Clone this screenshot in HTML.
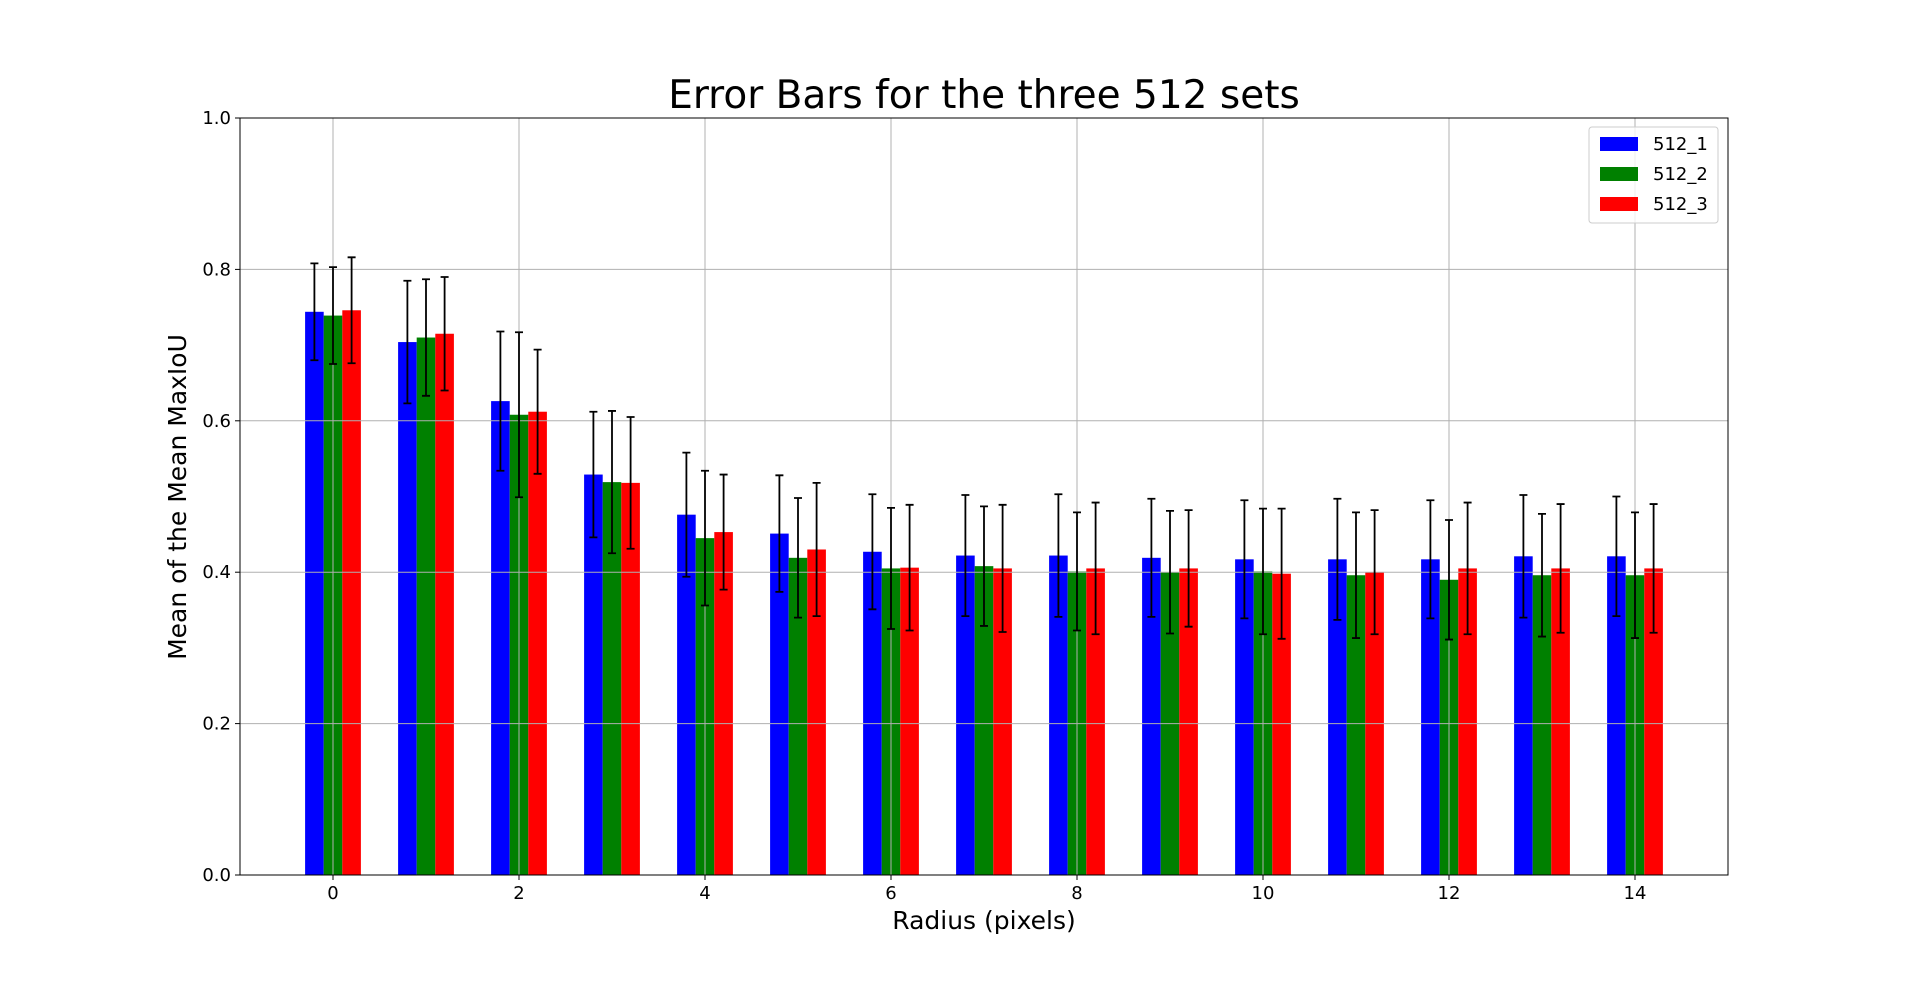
<!DOCTYPE html>
<html><head><meta charset="utf-8"><style>
html,body{margin:0;padding:0;background:#fff;}
svg{display:block;font-family:"DejaVu Sans","Liberation Sans",sans-serif;}
</style></head><body>
<svg id="chart" width="1920" height="983" viewBox="0 0 1920 983" xmlns="http://www.w3.org/2000/svg">
<rect width="1920" height="983" fill="#fff"/>
<text x="984" y="108" text-anchor="middle" font-size="39">Error Bars for the three 512 sets</text>
<g id="bars"></g>
<g id="grid"></g>
<g id="errs"></g>
<g id="axes"></g>
<text x="984" y="929" text-anchor="middle" font-size="25">Radius (pixels)</text>
<text transform="translate(186,497) rotate(-90)" text-anchor="middle" font-size="25">Mean of the Mean MaxIoU</text>
<g>
<rect x="1589" y="127" width="129" height="96" rx="3" fill="#fff" fill-opacity="0.8" stroke="#ccc"/>
<g><rect x="1600" y="137" width="38" height="14" fill="#0000ff"/><text x="1653" y="150" font-size="18">512_1</text></g>
<g><rect x="1600" y="167" width="38" height="14" fill="#008000"/><text x="1653" y="180" font-size="18">512_2</text></g>
<g><rect x="1600" y="197" width="38" height="14" fill="#ff0000"/><text x="1653" y="210" font-size="18">512_3</text></g>
</g>
</svg>
<script>
const radii = [0,1,2,3,4,5,6,7,8,9,10,11,12,13,14];
const mean1 = [0.744,0.704,0.626,0.529,0.476,0.451,0.427,0.422,0.422,0.419,0.417,0.417,0.417,0.421,0.421];
const err1  = [0.064,0.081,0.092,0.083,0.082,0.077,0.076,0.080,0.081,0.078,0.078,0.080,0.078,0.081,0.079];
const mean2 = [0.739,0.710,0.608,0.519,0.445,0.419,0.405,0.408,0.401,0.400,0.401,0.396,0.390,0.396,0.396];
const err2  = [0.064,0.077,0.109,0.094,0.089,0.079,0.080,0.079,0.078,0.081,0.083,0.083,0.079,0.081,0.083];
const mean3 = [0.746,0.715,0.612,0.518,0.453,0.430,0.406,0.405,0.405,0.405,0.398,0.400,0.405,0.405,0.405];
const err3  = [0.070,0.075,0.082,0.087,0.076,0.088,0.083,0.084,0.087,0.077,0.086,0.082,0.087,0.085,0.085];
const xTicks = [0,2,4,6,8,10,12,14];
const yTicks = [0.0,0.2,0.4,0.6,0.8,1.0];
const colors = ['#0000ff','#008000','#ff0000'];
const L=240,R=1728,T=118,B=875;
const xs = v => L + (v+1)/16*(R-L);
const ys = v => B - v*(B-T);
const NS='http://www.w3.org/2000/svg';
function mk(tag, attrs, parent){const e=document.createElementNS(NS,tag);for(const k in attrs)e.setAttribute(k,attrs[k]);parent.appendChild(e);return e;}
const gb=document.getElementById('bars'),gg=document.getElementById('grid'),ge=document.getElementById('errs'),ga=document.getElementById('axes');
const series=[[mean1,err1],[mean2,err2],[mean3,err3]];
const w=0.2;
series.forEach((s,si)=>{
  radii.forEach((r,i)=>{
    const c=r+(si-1)*w;
    const x0=xs(c-w/2),x1=xs(c+w/2);
    const b=mk('rect',{x:x0,y:ys(s[0][i]),width:x1-x0,height:ys(0)-ys(s[0][i]),fill:colors[si]},gb);
    
    
    const cx=xs(c),yt=ys(s[0][i]+s[1][i]),yb=ys(s[0][i]-s[1][i]);
    const e=mk('path',{d:`M${cx},${yt}V${yb}M${cx-4},${yt}H${cx+4}M${cx-4},${yb}H${cx+4}`,stroke:'#000','stroke-width':1.8,fill:'none'},ge);
    
    
  });
});
xTicks.forEach(t=>{
  const x=xs(t);
  mk('line',{x1:x,x2:x,y1:T,y2:B,stroke:'#b0b0b0','stroke-width':1},gg);
  mk('line',{x1:x,x2:x,y1:B,y2:B+5,stroke:'#000','stroke-width':1},ga);
  const tx=mk('text',{x:x,y:B+24,'text-anchor':'middle','font-size':18},ga);tx.textContent=t;
  
  
});
yTicks.forEach(t=>{
  const y=ys(t);
  mk('line',{x1:L,x2:R,y1:y,y2:y,stroke:'#b0b0b0','stroke-width':1},gg);
  mk('line',{x1:L-5,x2:L,y1:y,y2:y,stroke:'#000','stroke-width':1},ga);
  const tx=mk('text',{x:L-9,y:y+6,'text-anchor':'end','font-size':18},ga);tx.textContent=t.toFixed(1);
  
  
});
mk('rect',{x:L,y:T,width:R-L,height:B-T,fill:'none',stroke:'#000','stroke-width':1},ga);
</script>
</body></html>
